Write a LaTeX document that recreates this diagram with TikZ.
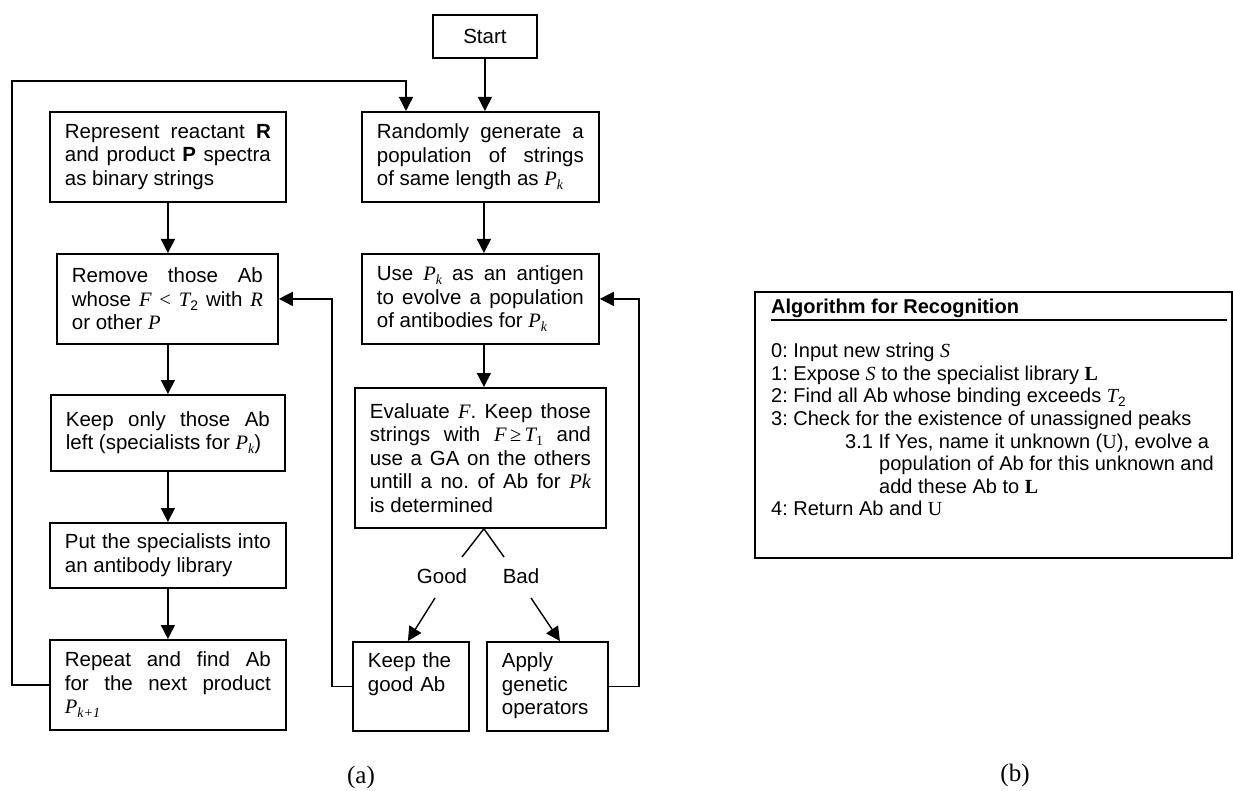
\documentclass[tikz,border=0pt]{standalone}
\usepackage{fontspec}
\usepackage{graphicx}
\setmainfont{Liberation Sans}
\newfontfamily\tms{Liberation Serif}
\usetikzlibrary{arrows.meta,calc}
\hyphenpenalty=10000
\exhyphenpenalty=10000
\frenchspacing
% italic (Times-like) variable and a small lowered subscript
\newcommand\iv[1]{{\tms\itshape #1}}
\newcommand\sbs[1]{\raisebox{-0.35ex}{\scalebox{0.68}{#1}}}
\begin{document}
\begin{tikzpicture}[x=1pt,y=-1pt,
  flow/.style={draw, line width=1.8pt, anchor=north west, inner xsep=15pt, inner ysep=0pt,
    align=justify, font=\fontsize{20.5}{23.5}\selectfont},
  conn/.style={line width=1.4pt},
  arr/.style={conn, -{Triangle[length=14pt,width=14pt]}},
  lbl/.style={font=\fontsize{20.5}{23.5}\selectfont, inner sep=0pt},
  captext/.style={font=\tms\fontsize{25}{28}\selectfont, inner sep=0pt},
  algo/.style={font=\fontsize{20}{22.6}\selectfont, inner sep=0pt, align=left, anchor=north west}]
\path[use as bounding box] (0,0) rectangle (1233,791);

% ---- flowchart boxes
\node[flow, align=center, inner xsep=0pt, minimum width=104pt, minimum height=43pt] (start) at (432,14) {Start};
\node[flow, minimum height=90pt, text width=206pt] (repr) at (49,111)
  {Represent reactant \textbf{R}\linebreak and product \textbf{P} spectra\linebreak as binary strings};
\node[flow, minimum height=90pt, text width=207pt] (rand) at (361,111)
  {Randomly generate a\linebreak population of strings\linebreak of same length as \iv{P}\sbs{\iv{k}}};
\node[flow, minimum height=90pt, text width=191pt] (remove) at (56,253)
  {Remove those Ab\linebreak whose \iv{F} {\tms<} \iv{T}\sbs{2} with \iv{R}\linebreak or other \iv{P}};
\node[flow, minimum height=90pt, text width=207pt] (use) at (361,253)
  {Use \iv{P}\sbs{\iv{k}} as an antigen\linebreak to evolve a population\linebreak of antibodies for \iv{P}\sbs{\iv{k}}};
\node[flow, minimum height=76pt, text width=204pt] (keeponly) at (50,394)
  {Keep only those Ab\linebreak left (specialists for \iv{P}\sbs{\iv{k}})};
\node[flow, minimum height=140pt, text width=221pt] (eval) at (354,387)
  {Evaluate \iv{F}. Keep those\linebreak strings with \iv{F}\,{\tms≥}\,\iv{T}\sbs{\tms 1} and\linebreak
   use a GA on the others\linebreak untill a no. of Ab for \iv{Pk}\linebreak is determined};
\node[flow, minimum height=65pt, text width=206pt] (put) at (49,522)
  {Put the specialists into\linebreak an antibody library};
\node[flow, minimum height=90pt, text width=206pt] (repeat) at (49,639)
  {Repeat and find Ab\linebreak for the next product\linebreak \iv{P}\sbs{\iv{k+1}}};
\node[flow, align=left, text width=86pt] (keepgood) at (352,641)
  {\parbox[c][89pt][t]{86pt}{\vspace*{11pt}Keep the\\good Ab}};
\node[flow, align=left, text width=91pt] (apply) at (486,641)
  {\parbox[c][89pt][t]{91pt}{\vspace*{11pt}Apply\\genetic\\operators}};

% ---- Good / Bad branch
\coordinate (forkL) at (462,557);
\coordinate (forkR) at (504,557);
\node[lbl] (good) at (442,576) {Good};
\node[lbl] (bad) at (521,576) {Bad};
\coordinate (goodtail) at (435,598);
\coordinate (badtail) at (531,598);

% ---- connectors
\draw[arr] (start.south) -- (start.south |- rand.north);
\draw[arr] ([xshift=3.5pt]rand.south) -- ([xshift=3.5pt]use.north);
\draw[arr] ([xshift=3.5pt]use.south) -- ([xshift=3.5pt]eval.north);
\draw[arr] (repr.south) -- (repr.south |- remove.north);
\draw[arr] (repr.south |- remove.south) -- (repr.south |- keeponly.north);
\draw[arr] (repr.south |- keeponly.south) -- (put.north);
\draw[arr] (put.south) -- (repeat.north);
\draw[conn] (forkL) -- ([xshift=3.5pt]eval.south) -- (forkR);
\draw[arr] (goodtail) -- ([xshift=-3pt]keepgood.north);
\draw[arr] (badtail) -- ([xshift=12.5pt]apply.north);
\draw[arr] (repeat.west) -| (12,81) -| ([xshift=45pt]rand.north west);
\draw[arr] (keepgood.west) -| ([xshift=53pt]remove.east) -- (remove.east);
\draw[arr] (apply.east) -| ([xshift=39pt]use.east) -- (use.east);

% ---- recognition algorithm panel
\draw[line width=1.6pt] (755,292) rectangle (1232,558);
\node[algo, anchor=base west, font=\bfseries\fontsize{20}{22.6}\selectfont] (ahead) at (771,313) {Algorithm for Recognition};
\draw[line width=1.3pt] (771,320) -- (1227,320);
\node[algo] (asteps) at (771,343) {%
0: Input new string \iv{S}\\
1: Expose \iv{S} to the specialist library {\tms\bfseries L}\\
2: Find all Ab whose binding exceeds \iv{T}\sbs{2}\\
3: Check for the existence of unassigned peaks\\
\hspace*{74pt}3.1 If Yes, name it unknown ({\tms U}), evolve a\\
\hspace*{108pt}population of Ab for this unknown and\\
\hspace*{108pt}add these Ab to {\tms\bfseries L}\\
4: Return Ab and {\tms U}};

% ---- captions
\node[captext] (capa) at (361,777) {(a)};
\node[captext] (capb) at (1015,775) {(b)};
\end{tikzpicture}
\end{document}
